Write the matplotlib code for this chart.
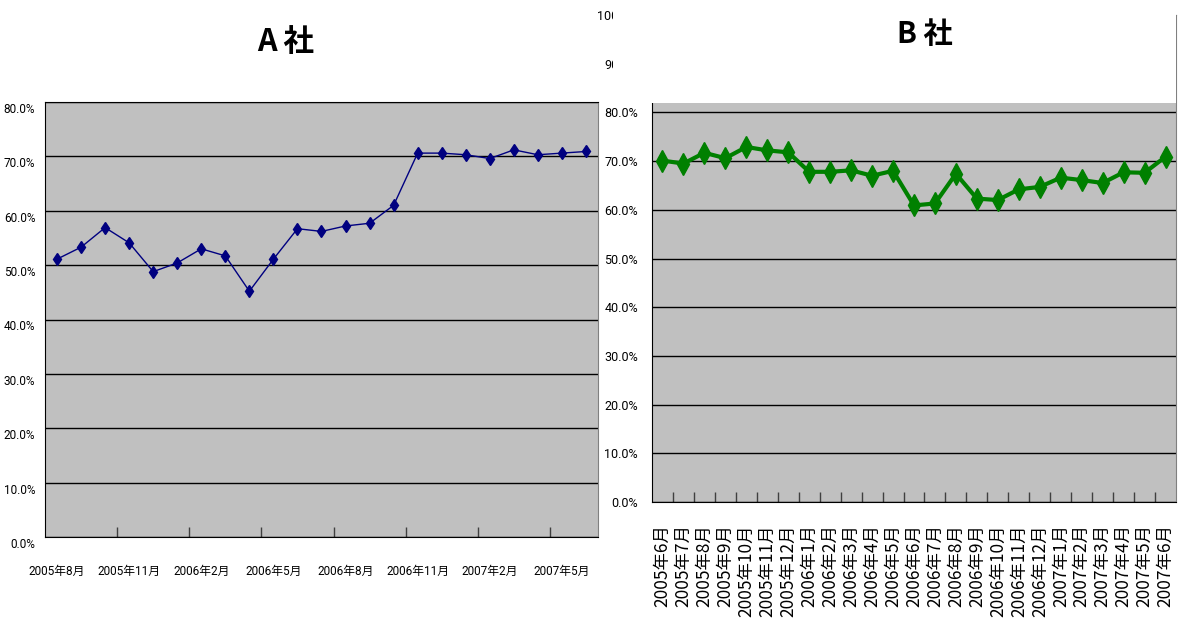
import numpy as np
import matplotlib
matplotlib.use("Agg")
import matplotlib.pyplot as plt
from matplotlib.patches import Rectangle
from matplotlib.transforms import ScaledTranslation

# ---------------- data ----------------
a_months = ["2005年8月", "2005年9月", "2005年10月", "2005年11月", "2005年12月",
            "2006年1月", "2006年2月", "2006年3月", "2006年4月", "2006年5月",
            "2006年6月", "2006年7月", "2006年8月", "2006年9月", "2006年10月",
            "2006年11月", "2006年12月", "2007年1月", "2007年2月", "2007年3月",
            "2007年4月", "2007年5月", "2007年6月"]
a_values = [51.1, 53.3, 56.9, 54.1, 48.8, 50.4, 53.0, 51.7, 45.2, 51.1,
            56.7, 56.2, 57.2, 57.7, 61.0, 70.6, 70.6, 70.3, 69.6, 71.2,
            70.3, 70.6, 70.9]

b_months = ["2005年6月", "2005年7月", "2005年8月", "2005年9月", "2005年10月",
            "2005年11月", "2005年12月", "2006年1月", "2006年2月", "2006年3月",
            "2006年4月", "2006年5月", "2006年6月", "2006年7月", "2006年8月",
            "2006年9月", "2006年10月", "2006年11月", "2006年12月", "2007年1月",
            "2007年2月", "2007年3月", "2007年4月", "2007年5月", "2007年6月"]
b_values = [70.1, 69.5, 71.7, 70.6, 72.9, 72.2, 71.8, 67.8, 67.8, 68.1,
            67.0, 68.0, 60.9, 61.3, 67.4, 62.3, 62.0, 64.2, 64.7, 66.6,
            66.1, 65.5, 67.7, 67.6, 70.9]

a_yticks = [0, 10, 20, 30, 40, 50, 60, 70, 80]
b_yticks = [0, 10, 20, 30, 40, 50, 60, 70, 80, 90, 100]
title_a = "A 社"
title_b = "B 社"

# ---------------- style ----------------
NARROW = ["Roboto", "Noto Sans CJK JP", "DejaVu Sans"]
CJK = ["Noto Sans CJK JP", "DejaVu Sans"]
plt.rcParams["font.family"] = NARROW
GRAY = "#C0C0C0"

W, H = 1187, 625
fig = plt.figure(figsize=(W / 100, H / 100), dpi=100)


def rect(x0, y0, x1, y1):
    return [x0 / W, 1 - y1 / H, (x1 - x0) / W, (y1 - y0) / H]


# ---------------- A chart ----------------
axA = fig.add_axes(rect(45, 102, 598, 537))
axA.set_facecolor(GRAY)
xa = np.arange(len(a_values))
axA.plot(xa, np.array(a_values), color="#000080", lw=1, marker="d", ms=6,
         mec="#000080", mfc="#000080", zorder=3)
axA.set_xlim(-0.5, len(a_values) - 0.5)
axA.set_ylim(0, 80)
axA.set_yticks(a_yticks)
axA.set_yticklabels([f"{v:.1f}%" for v in a_yticks], fontsize=8.5)
axA.yaxis.grid(True, color="black", lw=1)
axA.set_axisbelow(True)
axA.tick_params(axis="y", length=0, pad=7)
axA.set_xticks(np.arange(2.5, len(a_values) - 1, 3))
axA.set_xticklabels([])
lab_pos = xa[::3]
axA.set_xticks(lab_pos, minor=True)
axA.set_xticklabels([a_months[i] for i in lab_pos], minor=True, fontsize=8.5)
axA.tick_params(axis="x", which="major", direction="in", length=7, width=1, color="#404040")
axA.tick_params(axis="x", which="minor", length=0, pad=20)
for s in ["left", "bottom", "top"]:
    axA.spines[s].set_color("black")
axA.spines["right"].set_color("#808080")
off = ScaledTranslation(0, -0.06, fig.dpi_scale_trans)
for lab in axA.get_yticklabels():
    lab.set_transform(lab.get_transform() + off)

# ---------------- B chart ----------------
axB = fig.add_axes(rect(652, 15, 1176, 502))
axB.set_facecolor(GRAY)
xb = np.arange(len(b_values))
axB.plot(xb, np.array(b_values), color="#008000", lw=3, marker="d", ms=11,
         mec="#008000", mfc="#008000", zorder=3)
axB.set_xlim(-0.5, len(b_values) - 0.5)
axB.set_ylim(0, 100)
axB.set_yticks(b_yticks)
axB.set_yticklabels([f"{v:.1f}%" for v in b_yticks], fontsize=9)
axB.yaxis.grid(True, color="black", lw=1)
axB.set_axisbelow(True)
axB.tick_params(axis="y", length=0, pad=10)
axB.set_xticks(np.arange(0.5, len(b_values) - 1, 1))
axB.set_xticklabels([])
axB.set_xticks(xb, minor=True)
axB.set_xticklabels(b_months, minor=True, fontsize=12.5, rotation=90,
                    family=CJK)
axB.tick_params(axis="x", which="major", direction="in", length=7, width=1, color="#404040")
axB.tick_params(axis="x", which="minor", length=0, pad=16)
for lab in axB.get_xticklabels(minor=True):
    lab.set_va("top")
for s in ["left", "bottom"]:
    axB.spines[s].set_color("black")
axB.spines["right"].set_color("#808080")
axB.spines["top"].set_color("#808080")

# white panel covering the top of chart B
fig.add_artist(Rectangle((613 / W, 1 - 103 / H), (1175.5 - 613) / W, 103 / H,
                         transform=fig.transFigure, facecolor="white",
                         edgecolor="none", zorder=5))

fig.text(286 / W, 1 - 42 / H, title_a, ha="center", va="center", fontsize=22,
         fontweight="bold", family=CJK, zorder=6)
fig.text(925 / W, 1 - 34 / H, title_b, ha="center", va="center", fontsize=21,
         fontweight="bold", family=CJK, zorder=6)

fig.savefig("out.png", dpi=100, facecolor="white")
